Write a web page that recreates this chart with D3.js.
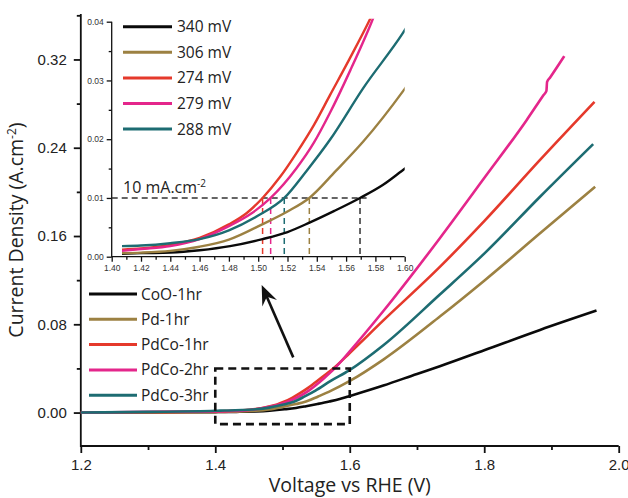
<!DOCTYPE html>
<html>
<head>
<meta charset="utf-8">
<script src="https://cdn.jsdelivr.net/npm/d3@7"></script>
<style>
  body { margin: 0; background: #fff; }
  svg { font-family: "Open Sans", "Noto Sans", sans-serif; }
</style>
</head>
<body>
<svg id="chart" width="628" height="498"></svg>
<script>
// series names, colours and onset potentials (inset legend)
const seriesNames = ['CoO-1hr', 'Pd-1hr', 'PdCo-1hr', 'PdCo-2hr', 'PdCo-3hr'];
const seriesColors = ['#0a0a0a', '#9c8142', '#e5392b', '#e4268b', '#1d6c72'];
const overpotentials = ['340 mV', '306 mV', '274 mV', '279 mV', '288 mV'];
// potential (V vs RHE) where each curve crosses 10 mA/cm2
const onsetVolts = [1.5695, 1.5349, 1.503, 1.5085, 1.5178];

// [V vs RHE, current density A/cm2]
const cooData = [[1.20,0.0000],[1.30,0.0002],[1.40,0.0004],[1.407,0.0005],[1.42,0.0006],[1.44,0.0007],[1.46,0.0011],[1.4808,0.0018],[1.503,0.0030],[1.52,0.0042],[1.535,0.0058],[1.552,0.0078],[1.5695,0.0100],[1.585,0.0122],[1.598,0.0146],[1.65,0.0245],[1.70,0.0350],[1.734,0.0420],[1.80,0.0565],[1.883,0.0749],[1.967,0.0924]];
const pdData = [[1.20,0.0000],[1.30,0.0001],[1.40,0.0004],[1.407,0.0006],[1.42,0.0007],[1.44,0.0010],[1.46,0.0017],[1.48,0.0029],[1.5035,0.0056],[1.52,0.0077],[1.5349,0.0100],[1.553,0.0146],[1.5717,0.0196],[1.5995,0.0284],[1.65,0.0480],[1.734,0.0870],[1.80,0.1195],[1.883,0.1624],[1.965,0.2047]];
const pdco1Data = [[1.20,0.0000],[1.30,0.0003],[1.40,0.0009],[1.407,0.0012],[1.42,0.0014],[1.44,0.0020],[1.46,0.0032],[1.48,0.0055],[1.492,0.0074],[1.503,0.0100],[1.515,0.0136],[1.526,0.0176],[1.538,0.0224],[1.549,0.0275],[1.562,0.0335],[1.5763,0.0404],[1.60,0.0540],[1.65,0.0835],[1.734,0.1320],[1.80,0.1735],[1.883,0.2290],[1.964,0.2816]];
const pdco2Data = [[1.20,0.0000],[1.30,0.0008],[1.40,0.0009],[1.407,0.0010],[1.42,0.0013],[1.44,0.0018],[1.46,0.0030],[1.48,0.0052],[1.495,0.0073],[1.5085,0.0100],[1.526,0.0150],[1.538,0.0194],[1.549,0.0245],[1.563,0.0318],[1.5775,0.0400],[1.60,0.0555],[1.65,0.0920],[1.734,0.1580],[1.80,0.2125],[1.863,0.2650],[1.888,0.2876],[1.8925,0.2916],[1.8935,0.2997],[1.898,0.3037],[1.919,0.3230]];
const pdco3Data = [[1.20,0.0000],[1.30,0.0006],[1.40,0.0016],[1.407,0.0018],[1.42,0.0019],[1.44,0.0023],[1.46,0.0030],[1.48,0.0045],[1.50,0.0070],[1.5178,0.0100],[1.533,0.0146],[1.549,0.0199],[1.5717,0.0287],[1.5986,0.0380],[1.65,0.0610],[1.734,0.1070],[1.80,0.1440],[1.883,0.1956],[1.962,0.2433]];
const allData = [cooData, pdData, pdco1Data, pdco2Data, pdco3Data];

// ticks
const xMajor = [1.2, 1.4, 1.6, 1.8, 2.0];
const xMinor = [1.3, 1.5, 1.7, 1.9];
const yMajor = [0, 0.08, 0.16, 0.24, 0.32];
const yMinor = [0.04, 0.12, 0.20, 0.28, 0.36];
const insetXMajor = [1.40, 1.42, 1.44, 1.46, 1.48, 1.50, 1.52, 1.54, 1.56, 1.58, 1.60];
const insetXMinor = [1.41, 1.43, 1.45, 1.47, 1.49, 1.51, 1.53, 1.55, 1.57, 1.59];
const insetYMajor = [0, 0.01, 0.02, 0.03, 0.04];
const insetYMinor = [0.005, 0.015, 0.025, 0.035];
const targetCurrent = 0.01; // 10 mA/cm2
const zoomBox = [[1.4, -0.0105], [1.6, 0.04]];
const arrowFrom = [1.516, 0.050], arrowTo = [1.469, 0.1157];

const svg = d3.select('#chart');

// main scales
const x = d3.scaleLinear().domain([1.2, 2.0]).range([80.8, 618.7]);
const y = d3.scaleLinear().domain([-0.0303, 0.3612]).range([446, 14]);

function drawAxes(g, xs, ys, o) {
  g.append('g').attr('transform', `translate(0,${ys.range()[0]})`)
    .call(d3.axisBottom(xs).tickValues(o.xMajor).tickFormat(d3.format(o.xFmt))
      .tickSize(o.major).tickSizeOuter(0).tickPadding(o.xPad));
  g.append('g').attr('transform', `translate(0,${ys.range()[0]})`)
    .call(d3.axisBottom(xs).tickValues(o.xMinor).tickFormat('').tickSize(o.minor).tickSizeOuter(0));
  g.append('g').attr('transform', `translate(${xs.range()[0]},0)`)
    .call(d3.axisLeft(ys).tickValues(o.yMajor).tickFormat(d3.format('.2f'))
      .tickSize(o.major).tickSizeOuter(0).tickPadding(o.yPad));
  g.append('g').attr('transform', `translate(${xs.range()[0]},0)`)
    .call(d3.axisLeft(ys).tickValues(o.yMinor).tickFormat('').tickSize(o.minor).tickSizeOuter(0));
  g.selectAll('.domain').remove();
  g.selectAll('.tick line').attr('stroke', '#111').attr('stroke-width', o.sw);
  g.selectAll('.tick text').attr('fill', o.textColor).style('font-size', o.font + 'px');
  // axis lines
  g.append('path')
    .attr('d', `M${xs.range()[0]},${ys.range()[1]}V${ys.range()[0]}H${xs.range()[1]}`)
    .attr('fill', 'none').attr('stroke', '#111').attr('stroke-width', o.sw);
}

drawAxes(svg.append('g'), x, y, {
  xMajor, xMinor, yMajor, yMinor, xFmt: '.1f', major: 7, minor: 4,
  xPad: 6, yPad: 7, sw: 1.8, font: 15, textColor: '#222'
});

// axis titles
svg.append('text').attr('x', x(1.6)).attr('y', 492).attr('text-anchor', 'middle')
  .style('font-size', '19.5px').attr('fill', '#222').text('Voltage vs RHE (V)');
const yTitle = svg.append('text').attr('transform', `translate(23,${(y.range()[0] + y.range()[1]) / 2}) rotate(-90)`)
  .attr('text-anchor', 'middle').style('font-size', '19.5px').attr('fill', '#222');
yTitle.append('tspan').text('Current Density (A.cm');
yTitle.append('tspan').attr('dy', -7).style('font-size', '12px').text('-2');
yTitle.append('tspan').attr('dy', 7).text(')');

// main curves
const line = d3.line().x(d => x(d[0])).y(d => y(d[1])).curve(d3.curveMonotoneX);
svg.append('g').selectAll('path').data(allData).join('path')
  .attr('d', line).attr('fill', 'none')
  .attr('stroke', (d, i) => seriesColors[i]).attr('stroke-width', 2.6)
  .attr('stroke-linejoin', 'round');

// dashed zoom box
svg.append('rect')
  .attr('x', x(zoomBox[0][0])).attr('y', y(zoomBox[1][1]))
  .attr('width', x(zoomBox[1][0]) - x(zoomBox[0][0]))
  .attr('height', y(zoomBox[0][1]) - y(zoomBox[1][1]))
  .attr('fill', 'none').attr('stroke', '#111').attr('stroke-width', 2.6)
  .attr('stroke-dasharray', '8,5');

// arrow
const ax0 = x(arrowFrom[0]), ay0 = y(arrowFrom[1]), ax1 = x(arrowTo[0]), ay1 = y(arrowTo[1]);
const ang = Math.atan2(ay1 - ay0, ax1 - ax0);
const headLen = 20, headW = 8;
const bx = ax1 - headLen * Math.cos(ang), by = ay1 - headLen * Math.sin(ang);
svg.append('line').attr('x1', ax0).attr('y1', ay0)
  .attr('x2', ax1 - 12 * Math.cos(ang)).attr('y2', ay1 - 12 * Math.sin(ang))
  .attr('stroke', '#111').attr('stroke-width', 2.6);
svg.append('path')
  .attr('d', `M${ax1},${ay1}L${bx + headW * Math.sin(ang)},${by - headW * Math.cos(ang)}` +
    `L${ax1 - 13 * Math.cos(ang)},${ay1 - 13 * Math.sin(ang)}` +
    `L${bx - headW * Math.sin(ang)},${by + headW * Math.cos(ang)}Z`)
  .attr('fill', '#111');

// main legend
const legend = svg.append('g');
seriesNames.forEach((name, i) => {
  const ly = 294 + i * 25.3;
  legend.append('line').attr('x1', 89).attr('x2', 137).attr('y1', ly).attr('y2', ly)
    .attr('stroke', seriesColors[i]).attr('stroke-width', 3);
  legend.append('text').attr('x', 141).attr('y', ly + 5.5)
    .style('font-size', '15.5px').attr('fill', '#222').text(name);
});

// ---------- inset ----------
const ix = d3.scaleLinear().domain([1.40, 1.60]).range([111.7, 404.7]);
const iy = d3.scaleLinear().domain([0, 0.04]).range([256.7, 21.7]);
const inset = svg.append('g');

svg.append('defs').append('clipPath').attr('id', 'insetClip')
  .append('rect').attr('x', ix(1.407)).attr('y', iy(0.0405))
  .attr('width', ix(1.60) - ix(1.407)).attr('height', iy(0) - iy(0.0405));

drawAxes(inset, ix, iy, {
  xMajor: insetXMajor, xMinor: insetXMinor, yMajor: insetYMajor, yMinor: insetYMinor,
  xFmt: '.2f', major: 5, minor: 3, xPad: 3, yPad: 3, sw: 1.3, font: 8.5, textColor: '#333'
});

// 10 mA/cm2 guide lines
inset.append('line').attr('x1', ix(1.40)).attr('x2', ix(1.574))
  .attr('y1', iy(targetCurrent)).attr('y2', iy(targetCurrent))
  .attr('stroke', '#333').attr('stroke-width', 1.5).attr('stroke-dasharray', '6,4');
inset.append('g').selectAll('line').data(onsetVolts).join('line')
  .attr('x1', d => ix(d)).attr('x2', d => ix(d))
  .attr('y1', iy(targetCurrent)).attr('y2', iy(0))
  .attr('stroke', (d, i) => i === 0 ? '#333' : seriesColors[i])
  .attr('stroke-width', 1.5).attr('stroke-dasharray', '6,4');

const iline = d3.line().x(d => ix(d[0])).y(d => iy(d[1])).curve(d3.curveMonotoneX);
inset.append('g').attr('clip-path', 'url(#insetClip)')
  .selectAll('path').data(allData.map(s => s.filter(d => d[0] >= 1.407 && d[0] <= 1.65)))
  .join('path')
  .attr('d', iline).attr('fill', 'none')
  .attr('stroke', (d, i) => seriesColors[i]).attr('stroke-width', 2.4);

const label10 = inset.append('text').attr('x', 123).attr('y', 192.5)
  .style('font-size', '16px').attr('fill', '#222');
label10.append('tspan').text('10 mA.cm');
label10.append('tspan').attr('dy', -6).style('font-size', '10px').text('-2');

// inset legend
overpotentials.forEach((lab, i) => {
  const ly = 26.7 + i * 25.6;
  inset.append('line').attr('x1', 123).attr('x2', 172).attr('y1', ly).attr('y2', ly)
    .attr('stroke', seriesColors[i]).attr('stroke-width', 3);
  inset.append('text').attr('x', 177).attr('y', ly + 5.5)
    .style('font-size', '15.5px').attr('fill', '#222').text(lab);
});
</script>
</body>
</html>
